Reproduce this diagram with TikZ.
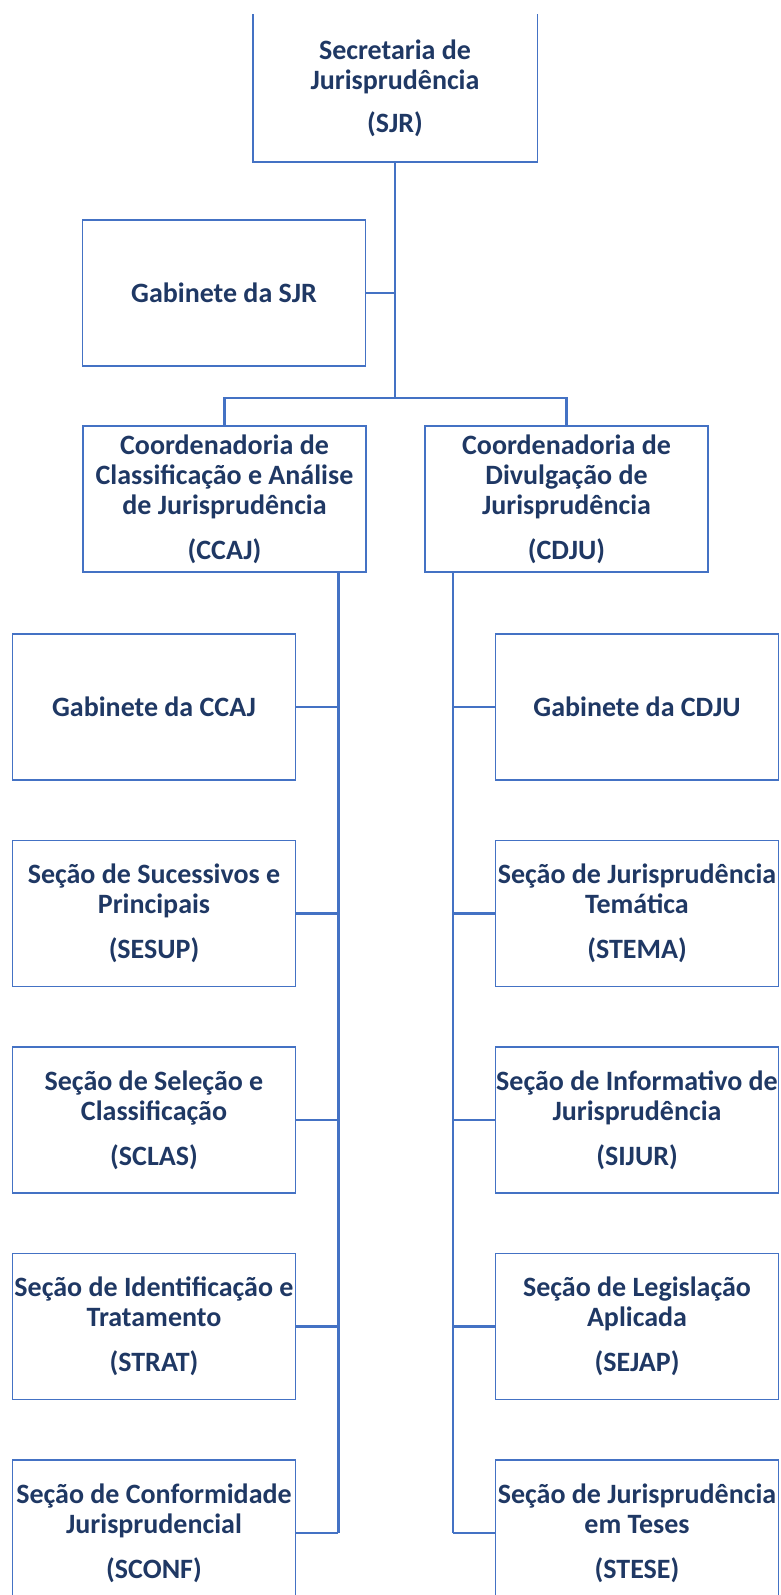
\documentclass[tikz,border=0pt]{standalone}
\usepackage{fontspec}
\setmainfont{Carlito}
\definecolor{boxline}{HTML}{4472C4}
\definecolor{boxtext}{HTML}{1F3864}
\tikzset{
  unit/.style={draw=boxline,line width=1.8pt,minimum width=283pt,minimum height=146pt,
    inner sep=0pt,align=center,text=boxtext,font=\bfseries\fontsize{28}{30}\selectfont},
  link/.style={draw=boxline,line width=2.2pt}
}

\begin{document}
\begin{tikzpicture}[x=1pt,y=-1pt]
\useasboundingbox (0,0) rectangle (780,1595);
\clip (0,0) rectangle (780,1595);
\node[unit,draw=none] (sjr) at (395,88) {Secretaria de\\Jurisprudência\\[13pt](SJR)};
\draw[draw=boxline,line width=1.8pt] (sjr.north west) |- (sjr.south east) -- (sjr.north east);
\node[unit] (gsjr) at (224,293) {Gabinete da SJR};
\node[unit] (ccaj) at (224.5,499) {Coordenadoria de\\Classificação e Análise\\de Jurisprudência\\[15pt](CCAJ)};
\node[unit] (cdju) at (566.5,499) {Coordenadoria de\\Divulgação de\\Jurisprudência\\[15pt](CDJU)};
\coordinate (bus) at (0,398);
\coordinate (lt) at (338,0);
\coordinate (rt) at (453,0);
\foreach \i/\txt in {1/{Gabinete da CCAJ},
    2/{Seção de Sucessivos e\\Principais\\[15pt](SESUP)},
    3/{Seção de Seleção e\\Classificação\\[15pt](SCLAS)},
    4/{Seção de Identificação e\\Tratamento\\[15pt](STRAT)},
    5/{Seção de Conformidade\\Jurisprudencial\\[15pt](SCONF)}}
  \node[unit] (l\i) at (154,{707+206.5*(\i-1)}) {\txt};
\foreach \i/\txt in {1/{Gabinete da CDJU},
    2/{Seção de Jurisprudência\\Temática\\[15pt](STEMA)},
    3/{Seção de Informativo de\\Jurisprudência\\[15pt](SIJUR)},
    4/{Seção de Legislação\\Aplicada\\[15pt](SEJAP)},
    5/{Seção de Jurisprudência\\em Teses\\[15pt](STESE)}}
  \node[unit] (r\i) at (637,{707+206.5*(\i-1)}) {\txt};
\draw[link] (sjr.south) -- (sjr.south |- bus);
\draw[link] (gsjr.east) -- (gsjr.east -| sjr.south);
\draw[link] (ccaj.north) |- (cdju.north |- bus) -- (cdju.north);
\draw[link,line width=3pt] (ccaj.south -| lt) -- (l5.east -| lt);
\draw[link] (cdju.south -| rt) -- (r5.west -| rt);
\foreach \i in {1,...,5}{
  \draw[link] (l\i.east) -- (l\i.east -| lt);
  \draw[link] (r\i.west) -- (r\i.west -| rt);
}
\end{tikzpicture}
\end{document}
